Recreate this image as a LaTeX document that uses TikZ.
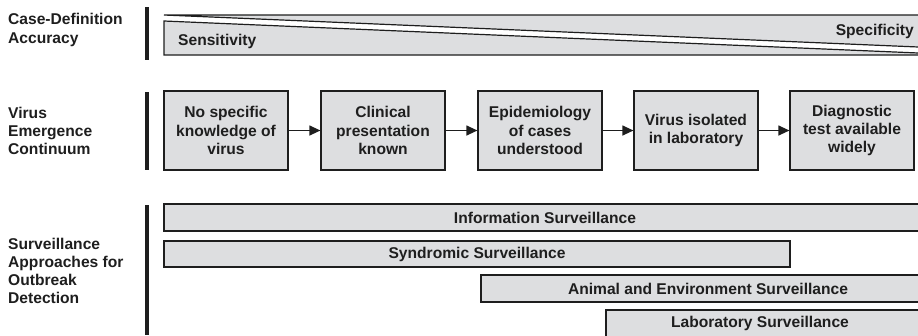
\documentclass[tikz,border=0pt]{standalone}
\usepackage{fontspec}
\setmainfont{Liberation Sans}
\usetikzlibrary{arrows.meta}
\definecolor{panel}{RGB}{221,222,224}
\definecolor{ink}{RGB}{30,30,30}
\begin{document}
\begin{tikzpicture}[x=1pt,y=-1pt,
  txt/.style={font=\bfseries\fontsize{15.6}{18.2}\selectfont, text=ink, inner sep=0pt},
  rowlabel/.style={txt, align=left, anchor=west},
  divider/.style={draw=ink, line width=3.4pt},
  outline/.style={draw=ink, line width=1.2pt, fill=panel},
  stage/.style={txt, outline, align=center, minimum width=124pt, minimum height=79pt},
  arr/.style={draw=ink, line width=1.2pt, -{Triangle[length=11pt,width=10pt]}}
]
\clip (0,0) rectangle (918,335);

% row labels
\node[rowlabel] (lab1) at (8,30) {Case-Definition\\Accuracy};
\node[rowlabel] (lab2) at (8,131) {Virus\\Emergence\\Continuum};
\node[rowlabel] (lab3) at (8,271) {Surveillance\\Approaches for\\Outbreak\\Detection};

% vertical dividers
\draw[divider] (147,7) -- (147,60);
\draw[divider] (147,92) -- (147,170);
\draw[divider] (147,205) -- (147,335);

% sensitivity / specificity wedge
\path[outline] (164,15) -- (930,15) -- (930,47.5) -- cycle;
\path[outline] (164,21) -- (930,53.5) -- (930,55) -- (164,55) -- cycle;
\node[txt, anchor=west] (sens) at (178,41) {Sensitivity};
\node[txt, anchor=east] (spec) at (914,31) {Specificity};

% virus emergence continuum
\node[stage] (s1) at (226,130.5) {No specific\\knowledge of\\virus};
\node[stage] (s2) at (383,130.5) {Clinical\\presentation\\known};
\node[stage] (s3) at (540,130.5) {Epidemiology\\of cases\\understood};
\node[stage] (s4) at (696,130.5) {Virus isolated\\in laboratory};
\node[stage] (s5) at (852,130.5) {Diagnostic\\test available\\widely};
\draw[arr] (s1) -- (s2);
\draw[arr] (s2) -- (s3);
\draw[arr] (s3) -- (s4);
\draw[arr] (s4) -- (s5);

% surveillance approaches
\path[outline] (164,204) rectangle (930,231);
\node[txt] (info) at (545,217.5) {Information Surveillance};
\path[outline] (164,241) rectangle (790,267);
\node[txt] (synd) at (477,254) {Syndromic Surveillance};
\path[outline] (481,275) rectangle (930,302);
\node[txt] (anim) at (708,288.5) {Animal and Environment Surveillance};
\path[outline] (606,310) rectangle (930,345);
\node[txt] (labs) at (760,323) {Laboratory Surveillance};
\end{tikzpicture}
\end{document}
